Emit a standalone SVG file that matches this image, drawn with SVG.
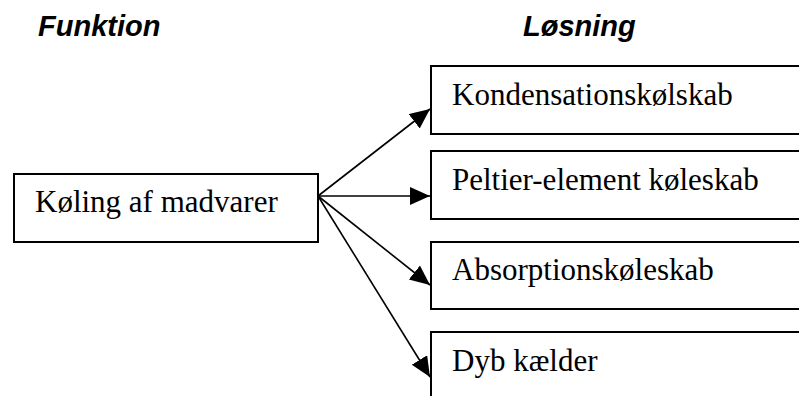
<svg xmlns="http://www.w3.org/2000/svg" width="799" height="396" viewBox="0 0 799 396">
<style>
.box{fill:#fff;stroke:#000;stroke-width:2}
.lbl{font-family:"Liberation Serif","Times New Roman",serif;font-size:31px;fill:#000}
.ttl{font-family:"Liberation Sans",Arial,sans-serif;font-size:29px;font-weight:bold;font-style:italic;fill:#000}
.con{stroke:#000;stroke-width:1.6;fill:none;marker-end:url(#ah)}
</style>
<defs>
<marker id="ah" markerUnits="userSpaceOnUse" markerWidth="22" markerHeight="20" refX="20" refY="9" orient="auto" viewBox="0 0 22 20">
<path d="M0,0 L20,9 L0,18 Z" fill="#000"/>
</marker>
</defs>
<text class="ttl" x="38" y="36">Funktion</text>
<text class="ttl" x="523" y="36">Løsning</text>
<g id="n0"><rect class="box" x="14" y="174" width="304" height="68"/><text class="lbl" x="35" y="212">Køling af madvarer</text></g>
<g id="n1"><rect class="box" x="431" y="66" width="420" height="68"/><text class="lbl" x="452" y="105">Kondensationskølskab</text></g>
<g id="n2"><rect class="box" x="431" y="151" width="420" height="68"/><text class="lbl" x="452" y="190">Peltier-element køleskab</text></g>
<g id="n3"><rect class="box" x="431" y="242" width="420" height="67"/><text class="lbl" x="452" y="280">Absorptionskøleskab</text></g>
<g id="n4"><rect class="box" x="431" y="332" width="420" height="80"/><text class="lbl" x="452" y="371">Dyb kælder</text></g>
<g id="connectors">
<line class="con" x1="318" y1="196" x2="430" y2="109"/>
<line class="con" x1="318" y1="196" x2="430" y2="196"/>
<line class="con" x1="318" y1="196" x2="430" y2="285"/>
<line class="con" x1="318" y1="196" x2="430" y2="377"/>
</g>
</svg>
